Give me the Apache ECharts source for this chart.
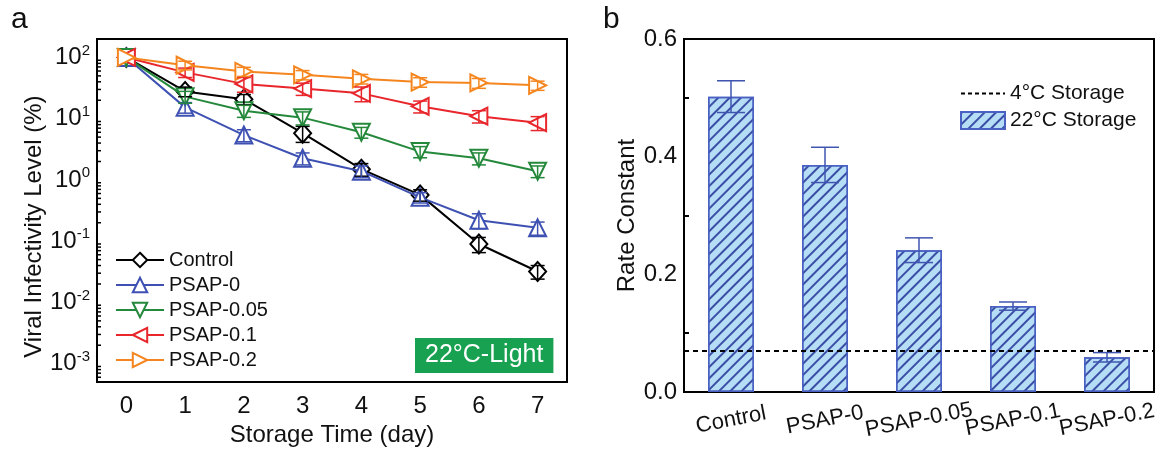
<!DOCTYPE html>
<html>
<head>
<meta charset="utf-8">
<script src="https://cdn.jsdelivr.net/npm/echarts@6/dist/echarts.min.js"></script>
<style>
  html, body { margin: 0; padding: 0; background: #fff; }
  #main { width: 1164px; height: 452px; }
</style>
</head>
<body>
<div id="main"></div>
<script>
// panel a: storage time vs infectivity (%)
const days = ['0', '1', '2', '3', '4', '5', '6', '7'];
const control = [100, 27.8, 20.8, 5.8, 1.5, 0.57, 0.09, 0.032];
const psap0 = [100, 15.3, 5.4, 2.26, 1.39, 0.52, 0.22, 0.165];
const psap005 = [100, 22.9, 13.5, 10.4, 6.0, 2.9, 2.26, 1.39];
const psap01 = [100, 57, 37, 31, 25.9, 15.9, 11, 8.6];
const psap02 = [100, 74.6, 59, 52, 44.8, 39.6, 38.3, 35];
// error bars (+/- in %)
const controlErr = [0, 5, 4, 1.7, 0.35, 0.12, 0.025, 0.008];
const psap0Err = [0, 3, 1.2, 0.5, 0.3, 0.1, 0.06, 0.04];
const psap005Err = [0, 5, 3, 2.5, 1.2, 0.6, 0.5, 0.3];
const psap01Err = [0, 10, 10, 7, 7, 3.5, 2.5, 2.2];
const psap02Err = [0, 12, 10, 9, 8, 7, 7, 6];
// log axis minor ticks: mantissas and decades
const minorMantissa = [2, 3, 4, 5, 6, 7, 8, 9];
const minorDecades = [-4, -3, -2, -1, 0, 1, 2];

// panel b: rate constants
const groups = ['Control', 'PSAP-0', 'PSAP-0.05', 'PSAP-0.1', 'PSAP-0.2'];
const rates = [0.502, 0.386, 0.241, 0.146, 0.059];
const rateErr = [0.027, 0.030, 0.021, 0.007, 0.008];
const coldRate = 0.071;

const font = 'Liberation Sans, Arial, sans-serif';
const chart = echarts.init(document.getElementById('main'));

const yMin = 0.0005, yMax = 200;
const minorVals = [];
minorDecades.forEach(d => minorMantissa.forEach(m => {
    const v = m * Math.pow(10, d);
    if (v > yMin && v < yMax) minorVals.push(v);
}));

function errBars(name, vals, errs, color, capW, xi, yi, z) {
    return {
        name: name,
        type: 'custom',
        xAxisIndex: xi,
        yAxisIndex: yi,
        z: z,
        silent: true,
        data: vals.map((v, i) => [i, v - errs[i], v + errs[i]]).filter((d, i) => errs[i] > 0),
        renderItem: function (params, api) {
            const lo = api.coord([api.value(0), api.value(1)]);
            const hi = api.coord([api.value(0), api.value(2)]);
            const st = { stroke: color, lineWidth: 1.5 };
            return {
                type: 'group',
                children: [
                    { type: 'line', shape: { x1: lo[0], y1: lo[1], x2: hi[0], y2: hi[1] }, style: st },
                    { type: 'line', shape: { x1: lo[0] - capW, y1: lo[1], x2: lo[0] + capW, y2: lo[1] }, style: st },
                    { type: 'line', shape: { x1: hi[0] - capW, y1: hi[1], x2: hi[0] + capW, y2: hi[1] }, style: st }
                ]
            };
        }
    };
}

function lineSeries(name, data, color, rotate, z) {
    return {
        name: name,
        type: 'line',
        xAxisIndex: 0,
        yAxisIndex: 0,
        z: z,
        data: data,
        symbol: name === 'Control' ? 'diamond' : 'triangle',
        symbolSize: name === 'Control' ? [17, 19] : 17,
        symbolRotate: rotate,
        lineStyle: { color: color, width: 2 },
        itemStyle: { color: '#fff', borderColor: color, borderWidth: 2 },
        emphasis: { disabled: true }
    };
}

const axisLine = { show: true, onZero: false, lineStyle: { color: '#000', width: 2 } };

chart.setOption({
    animation: false,
    textStyle: { fontFamily: font },
    title: [
        { text: 'a', left: 6, top: 0, textStyle: { fontSize: 30, fontWeight: 'normal', color: '#111', fontFamily: font } },
        { text: 'b', left: 598, top: 0, textStyle: { fontSize: 30, fontWeight: 'normal', color: '#111', fontFamily: font } },
        {
            text: '22°C-Light', left: 415, top: 338, padding: [5, 10],
            backgroundColor: '#17a150',
            textStyle: { fontSize: 25, fontWeight: 'normal', color: '#fff', fontFamily: font }
        }
    ],
    legend: [
        {
            data: ['Control', 'PSAP-0', 'PSAP-0.05', 'PSAP-0.1', 'PSAP-0.2'],
            orient: 'vertical', left: 110, top: 245,
            itemWidth: 48, itemHeight: 18, itemGap: 5,
            textStyle: { fontSize: 20, color: '#111', fontFamily: font },
            selectedMode: false
        },
        {
            data: ['4°C Storage', { name: '22°C Storage', icon: 'rect' }],
            orient: 'vertical', left: 955, top: 78,
            itemWidth: 44, itemHeight: 17, itemGap: 6,
            textStyle: { fontSize: 21, color: '#111', fontFamily: font },
            selectedMode: false
        }
    ],
    grid: [
        { left: 97, top: 39, width: 470, height: 353, show: true, borderColor: '#000', borderWidth: 2 },
        { left: 684, top: 39, width: 470, height: 353, show: true, borderColor: '#000', borderWidth: 2 }
    ],
    xAxis: [
        {
            gridIndex: 0, type: 'category', data: days, boundaryGap: true, position: 'bottom',
            name: 'Storage Time (day)', nameLocation: 'middle', nameGap: 37,
            nameTextStyle: { fontSize: 24, color: '#111' },
            axisLine: axisLine,
            axisTick: { alignWithLabel: true, inside: true, length: 6, lineStyle: { color: '#000', width: 2 } },
            axisLabel: { fontSize: 24, color: '#111', margin: 12 }
        },
        {
            gridIndex: 0, type: 'category', data: days, boundaryGap: true, position: 'bottom',
            axisLine: { show: false },
            axisTick: { inside: true, length: 5, lineStyle: { color: '#000', width: 2 } },
            axisLabel: { show: false }
        },
        {
            gridIndex: 1, type: 'category', data: groups, boundaryGap: true,
            axisLine: axisLine,
            axisTick: { show: false },
            axisLabel: { fontSize: 22, color: '#111', rotate: 11, align: 'center', margin: 28, interval: 0 }
        }
    ],
    yAxis: [
        {
            gridIndex: 0, type: 'log', logBase: 10, min: yMin, max: yMax,
            name: 'Viral Infectivity Level (%)', nameLocation: 'middle', nameGap: 48,
            nameTextStyle: { fontSize: 24, color: '#111', padding: [0, 32, 0, 0] },
            axisLine: axisLine,
            axisTick: { inside: true, length: 8, lineStyle: { color: '#000', width: 2 } },
            splitLine: { show: false },
            axisLabel: {
                margin: 7,
                formatter: function (v) {
                    const p = Math.log10(v);
                    if (Math.abs(p - Math.round(p)) > 1e-6) return '';
                    return '{b|10}{s|' + Math.round(p) + '}';
                },
                rich: {
                    b: { fontSize: 24, color: '#111', fontFamily: font },
                    s: { fontSize: 15, color: '#111', fontFamily: font, padding: [0, 0, 14, 0] }
                }
            }
        },
        {
            gridIndex: 1, type: 'value', min: 0, max: 0.6, interval: 0.2,
            name: 'Rate Constant', nameLocation: 'middle', nameGap: 45,
            nameTextStyle: { fontSize: 24, color: '#111' },
            axisLine: axisLine,
            axisTick: { inside: true, length: 7, lineStyle: { color: '#000', width: 2 } },
            minorTick: { show: true, splitNumber: 2, length: 5, lineStyle: { color: '#000', width: 2 } },
            splitLine: { show: false },
            axisLabel: { fontSize: 24, color: '#111', margin: 7, formatter: v => v.toFixed(1) }
        }
    ],
    series: [
        {
            name: 'minor ticks',
            type: 'custom',
            xAxisIndex: 0,
            yAxisIndex: 0,
            silent: true,
            z: 1,
            data: minorVals.map(v => [0, v]),
            renderItem: function (params, api) {
                const y = api.coord([0, api.value(1)])[1];
                const x0 = params.coordSys.x;
                return {
                    type: 'line',
                    shape: { x1: x0, y1: y, x2: x0 + 4, y2: y },
                    style: { stroke: '#000', lineWidth: 1.5 }
                };
            }
        },
        lineSeries('Control', control, '#000', 0, 2),
        lineSeries('PSAP-0', psap0, '#3e51b2', 0, 3),
        lineSeries('PSAP-0.05', psap005, '#24893b', 180, 4),
        lineSeries('PSAP-0.1', psap01, '#e8262b', 90, 5),
        lineSeries('PSAP-0.2', psap02, '#f5861f', -90, 6),
        errBars('Control err', control, controlErr, '#000', 7, 0, 0, 7),
        errBars('PSAP-0 err', psap0, psap0Err, '#3e51b2', 7, 0, 0, 7),
        errBars('PSAP-0.05 err', psap005, psap005Err, '#24893b', 7, 0, 0, 7),
        errBars('PSAP-0.1 err', psap01, psap01Err, '#e8262b', 7, 0, 0, 7),
        errBars('PSAP-0.2 err', psap02, psap02Err, '#f5861f', 7, 0, 0, 7),
        {
            name: '22°C Storage',
            type: 'bar',
            xAxisIndex: 2,
            yAxisIndex: 1,
            data: rates,
            barWidth: 46,
            itemStyle: {
                color: '#b6ddf6',
                borderColor: '#4a60c2',
                borderWidth: 1.5,
                decal: {
                    symbol: 'rect', symbolSize: 1,
                    dashArrayX: [1, 0], dashArrayY: [1.2, 5.8],
                    rotation: -Math.PI / 4,
                    color: '#3a4ea6'
                }
            },
            emphasis: { disabled: true }
        },
        errBars('rate error', rates, rateErr, '#3f55b0', 14, 2, 1, 10),
        {
            name: '4°C Storage',
            type: 'line',
            xAxisIndex: 2,
            yAxisIndex: 1,
            data: [],
            symbol: 'none',
            itemStyle: { color: '#000', opacity: 0 },
            lineStyle: { color: '#000', width: 2, type: [4, 3] },
            markLine: {
                silent: true, symbol: 'none',
                label: { show: false },
                lineStyle: { color: '#000', width: 2, type: [5, 4] },
                data: [{ yAxis: coldRate }]
            }
        }
    ]
});
</script>
</body>
</html>
